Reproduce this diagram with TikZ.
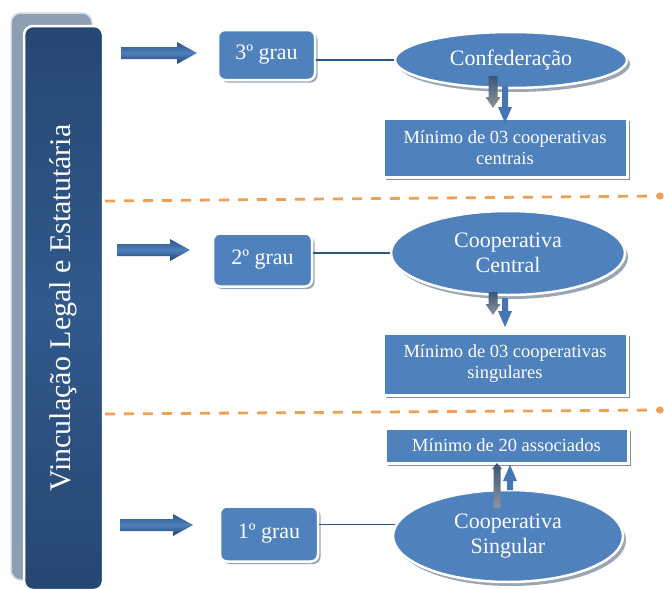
\documentclass[tikz,border=0pt]{standalone}
\usepackage{fontspec}
\setmainfont{Liberation Serif}
\usetikzlibrary{calc,shadows,shapes.geometric}

\definecolor{boxblue}{HTML}{4F81BD}
\definecolor{paneldark}{HTML}{264771}
\definecolor{panelmid}{HTML}{31598C}
\definecolor{panelback}{HTML}{8E9EB4}
\definecolor{panelrim}{HTML}{D3DAE4}
\definecolor{dashorange}{HTML}{F0A055}
\definecolor{linkblue}{HTML}{2E5684}
\definecolor{shadowgray}{HTML}{9BA6B4}
\definecolor{arrowdark}{HTML}{1D4170}
\definecolor{arrowlight}{HTML}{4F80BC}
\definecolor{ghostdark}{HTML}{3A5679}
\definecolor{ghostlight}{HTML}{8E949C}
\definecolor{pointerblue}{HTML}{4475B4}

% block arrow from #1 to #2: shaft half width #3, head half width #4, head length #5, style #6
\newcommand{\blockarrow}[6]{%
  \path coordinate (hb) at ($(#2)!#5!(#1)$);
  \path[#6] ($(#1)!#3!90:(#2)$) -- ($(hb)!#3!-90:(#1)$) -- ($(hb)!#4!-90:(#1)$)
    -- (#2) -- ($(hb)!#4!90:(#1)$) -- ($(hb)!#3!90:(#1)$) -- ($(#1)!#3!-90:(#2)$) -- cycle;}

\begin{document}
\begin{tikzpicture}[x=1pt,y=-1pt,
  backpanel/.style={fill=panelback, draw=panelrim, line width=1.5pt, rounded corners=10pt,
    minimum width=81pt, minimum height=567pt, inner sep=0pt},
  panel/.style={top color=paneldark, bottom color=paneldark, middle color=panelmid,
    draw=white, line width=2.5pt, rounded corners=9pt, text=white,
    font=\fontsize{30}{36}\selectfont, inner sep=0pt},
  gradebox/.style={rectangle, rounded corners=7pt, fill=boxblue, draw=white, line width=2.5pt,
    text=white, font=\fontsize{22}{26}\selectfont, inner sep=0pt,
    general shadow={fill=shadowgray, shadow xshift=2.5pt, shadow yshift=-2.5pt}},
  ovalnode/.style={ellipse, fill=boxblue, draw=white, line width=2.5pt, text=white,
    font=\fontsize{22}{25}\selectfont, align=center, inner sep=0pt,
    general shadow={fill=shadowgray, shadow xshift=3pt, shadow yshift=-4pt}},
  notebox/.style={rectangle, fill=boxblue, draw=white, line width=3pt, text=white,
    font=\fontsize{18.5}{21}\selectfont, align=center, inner sep=0pt,
    general shadow={fill=shadowgray!85!black, shadow xshift=3pt, shadow yshift=-3pt}},
  link/.style={draw=linkblue, line width=1.2pt},
  dashline/.style={draw=dashorange, line width=2.8pt, dash pattern=on 10pt off 9pt},
  bigarrow/.style={top color=arrowdark!70!arrowlight, bottom color=arrowdark, middle color=arrowlight},
  ghostarrow/.style={top color=ghostdark, bottom color=ghostlight},
  pointer/.style={fill=pointerblue}
]
\useasboundingbox (0,0) rectangle (664,589);

% side panel
\node[backpanel] (pback) at (51.5,296.5) {};
\node[panel, rotate=90, minimum width=564pt, minimum height=79pt] (pnl) at (63.5,308)
  {Vinculação Legal e Estatutária};

% level separators
\coordinate (d1s) at (105,201);
\coordinate (d1e) at (660,196);
\coordinate (d2s) at (105,414);
\coordinate (d2e) at (660,410);
\draw[dashline] (d1s) -- (d1e);
\draw[dashline] (d2s) -- (d2e);
\fill[dashorange] (d1e) circle (3.6pt);
\fill[dashorange] (d2e) circle (3.6pt);

% grade boxes
\node[gradebox, minimum width=97pt, minimum height=50pt] (g3) at (266.5,55) {3º grau};
\node[gradebox, minimum width=99pt, minimum height=53pt] (g2) at (262.5,260) {2º grau};
\node[gradebox, minimum width=98pt, minimum height=55pt] (g1) at (269,534) {1º grau};

% organisations
\node[ovalnode, minimum width=232pt, minimum height=56pt] (e3) at (511,60) {Confederação};
\node[ovalnode, minimum width=234pt, minimum height=84pt] (e2) at (508,253) {Cooperativa\\Central};
\node[ovalnode, minimum width=230pt, minimum height=92pt] (e1) at (508,536) {Cooperativa\\Singular};

% requirements
\node[notebox, minimum width=244pt, minimum height=59pt] (m3) at (505,147.5)
  {Mínimo de 03 cooperativas\\centrais};
\node[notebox, minimum width=244pt, minimum height=62pt] (m2) at (505,364)
  {Mínimo de 03 cooperativas\\singulares};
\node[notebox, minimum width=243pt, minimum height=35pt] (m1) at (506.5,445.5)
  {Mínimo de 20 associados};

% grade to organisation links
\draw[link] (g3.east |- e3.west) -- (e3.west);
\draw[link] (g2.east |- e2.west) -- (e2.west);
\draw[link] (g1.east |- e1.174) -- (e1.174);

% arrows from the panel to each grade
\coordinate (a3s) at (121,53);  \coordinate (a3e) at (197,53);
\coordinate (a2s) at (117,250); \coordinate (a2e) at (190,250);
\coordinate (a1s) at (120,525); \coordinate (a1e) at (193,525);
\blockarrow{a3s}{a3e}{6pt}{11pt}{20pt}{bigarrow}
\blockarrow{a2s}{a2e}{6pt}{11pt}{20pt}{bigarrow}
\blockarrow{a1s}{a1e}{6pt}{11pt}{20pt}{bigarrow}

% arrows between organisations and requirements
\coordinate (c3gs) at (493,76);  \coordinate (c3ge) at (493,108);
\coordinate (c3bs) at (505,86);  \coordinate (c3be) at (505,123);
\blockarrow{c3gs}{c3ge}{4.5pt}{7.5pt}{11pt}{ghostarrow}
\blockarrow{c3bs}{c3be}{3pt}{7pt}{16pt}{pointer}

\coordinate (c2gs) at (493,292); \coordinate (c2ge) at (493,315);
\coordinate (c2bs) at (505,298); \coordinate (c2be) at (505,327);
\blockarrow{c2gs}{c2ge}{4.5pt}{7.5pt}{11pt}{ghostarrow}
\blockarrow{c2bs}{c2be}{3pt}{7pt}{16pt}{pointer}

\coordinate (c1gs) at (497,508); \coordinate (c1ge) at (497,463);
\coordinate (c1bs) at (510,490); \coordinate (c1be) at (510,465);
\blockarrow{c1gs}{c1ge}{3.5pt}{5pt}{6pt}{ghostarrow}
\blockarrow{c1bs}{c1be}{3pt}{7pt}{16pt}{pointer}
\end{tikzpicture}
\end{document}
